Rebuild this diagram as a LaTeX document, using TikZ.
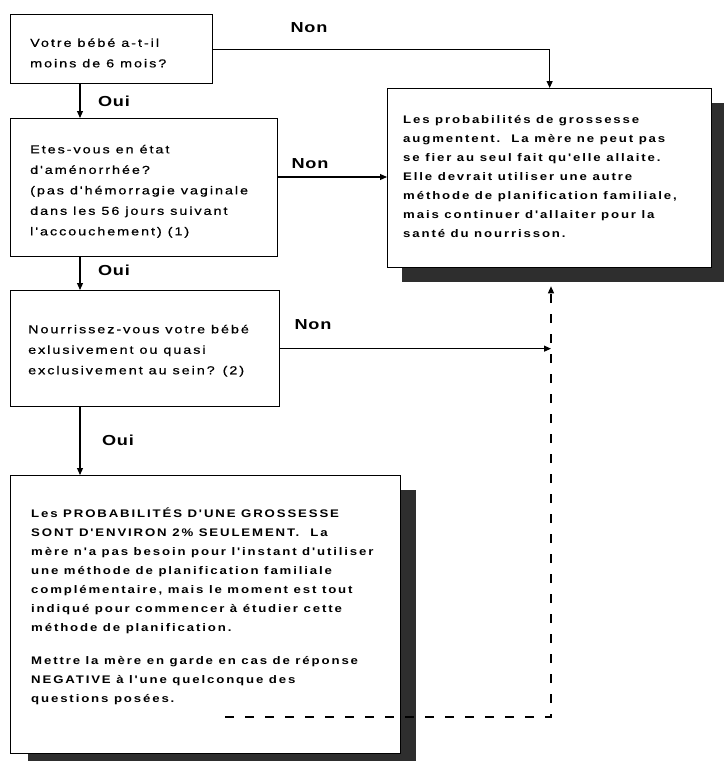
\documentclass[tikz,border=0pt]{standalone}
\usepackage{fontspec}
\setmainfont{Liberation Sans}
\newfontfamily\qfont[FakeStretch=1.25,LetterSpace=17,FakeBold=0.6]{Liberation Sans}
\newfontfamily\afont[FakeStretch=1.2,LetterSpace=17]{Liberation Sans}
\newfontfamily\lfont[FakeStretch=1.25,LetterSpace=5]{Liberation Sans}
\usetikzlibrary{arrows.meta}
\begin{document}
\begin{tikzpicture}[x=1pt,y=-1pt,
  box/.style={draw,line width=1.3pt,fill=white,inner sep=0pt,anchor=north west},
  shad/.style={fill=black!82,draw=none},
  qtext/.style={anchor=north west,inner sep=0pt,align=left,font=\qfont\fontsize{11.5}{20.5}\selectfont},
  atext/.style={anchor=north west,inner sep=0pt,align=left,font=\afont\bfseries\fontsize{11}{19}\selectfont},
  lab/.style={font=\lfont\bfseries\fontsize{14.5}{16}\selectfont,inner sep=0pt},
  arr/.style={line width=1.1pt,-{Triangle[length=7pt,width=6pt]}},
  dsh/.style={line width=1.3pt,dash pattern=on 9pt off 11pt,-{Triangle[length=7pt,width=6pt]}}]
\useasboundingbox (0,0) rectangle (724,761);
% shadows
\fill[shad] (402,103) rectangle (724,282);
\fill[shad] (28,490) rectangle (416,761);
% boxes
\node[box,minimum width=202pt,minimum height=69pt] (q1) at (10,14) {};
\node[box,minimum width=267pt,minimum height=138pt] (q2) at (10,118) {};
\node[box,minimum width=269pt,minimum height=116pt] (q3) at (10,290) {};
\node[box,minimum width=324pt,minimum height=179pt] (r) at (387,88) {};
\node[box,minimum width=390pt,minimum height=278pt] (b4) at (10,475) {};
% texts
\node[qtext] (t1) at (30,32.3) {\strut Votre bébé a-t-il\\moins de 6 mois?};
\node[qtext] (t2) at (30,138.8) {\strut Etes-vous en état\\d'aménorrhée?\\(pas d'hémorragie vaginale\\dans les 56 jours suivant\\l'accouchement) (1)};
\node[qtext] (t3) at (28,318.7) {\strut Nourrissez-vous votre bébé\\exlusivement ou quasi\\exclusivement au sein? (2)};
\node[atext] (tr) at (403,109.7) {\strut Les probabilités de grossesse\\augmentent.\ \ La mère ne peut pas\\se fier au seul fait qu'elle allaite.\\Elle devrait utiliser une autre\\méthode de planification familiale,\\mais continuer d'allaiter pour la\\santé du nourrisson.};
\node[atext] (t4) at (31,503.7) {\strut Les PROBABILITÉS D'UNE GROSSESSE\\SONT D'ENVIRON 2\% SEULEMENT.\ \ La\\mère n'a pas besoin pour l'instant d'utiliser\\une méthode de planification familiale\\complémentaire, mais le moment est tout\\indiqué pour commencer à étudier cette\\méthode de planification.\\[14pt]Mettre la mère en garde en cas de réponse\\NEGATIVE à l'une quelconque des\\questions posées.};
% labels
\node[lab] (n1) at (309,28) {Non};
\node[lab] (o1) at (114,101) {Oui};
\node[lab] (n2) at (310,164) {Non};
\node[lab] (o2) at (114,270) {Oui};
\node[lab] (n3) at (313,325) {Non};
\node[lab] (o3) at (118,440) {Oui};
% connectors
\coordinate (cx) at (80,0);
\coordinate (y2) at (0,177);
\coordinate (dc) at (551,717);
\coordinate (ds) at (225,717);
\draw[arr] (q1.south -| cx) -- (q2.north -| cx);
\draw[arr] (q2.south -| cx) -- (q3.north -| cx);
\draw[arr] (q3.south -| cx) -- (b4.north -| cx);
\draw[arr] (q1.east) -| (r.north);
\draw[arr] (q2.east |- y2) -- (r.west |- y2);
\draw[arr] (q3.east) -- (q3.east -| dc);
\draw[dsh,shorten >=18pt] (ds) -- (dc) -- (r.south -| dc);
\end{tikzpicture}
\end{document}
